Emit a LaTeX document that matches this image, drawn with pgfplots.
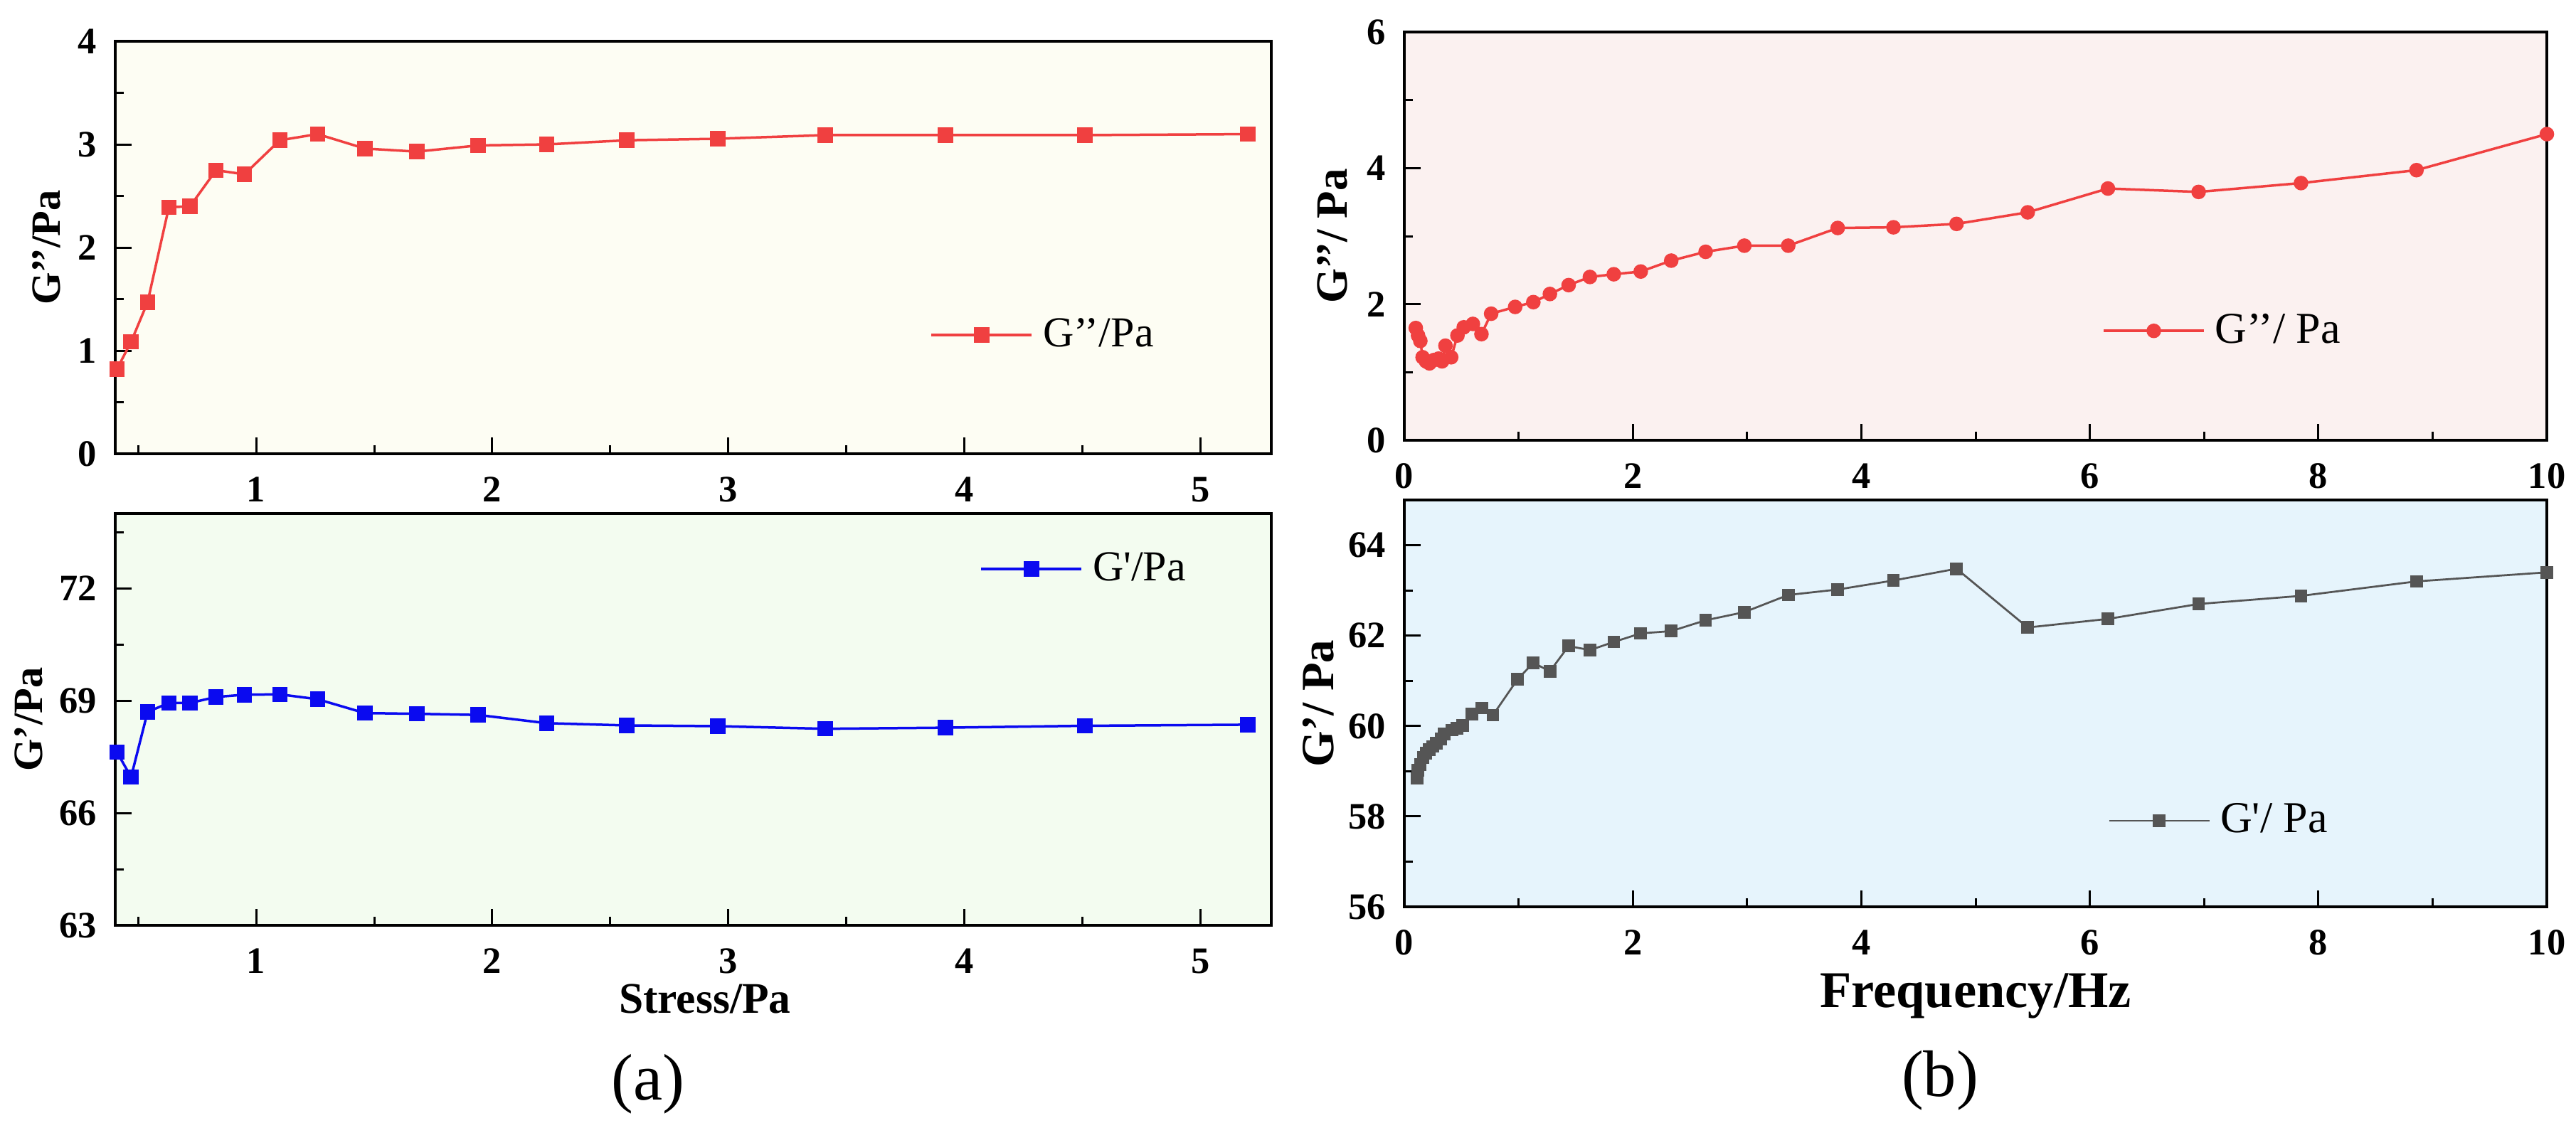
\documentclass[border=0pt]{standalone}
\usepackage{fontspec}
\setmainfont{Liberation Serif}
\usepackage{pgfplots}
\pgfplotsset{compat=1.18}
\definecolor{bgAa}{RGB}{253,253,243}
\definecolor{bgAb}{RGB}{243,252,240}
\definecolor{bgBa}{RGB}{251,241,240}
\definecolor{bgBb}{RGB}{230,244,252}
\definecolor{cred}{RGB}{240,64,64}
\definecolor{cblue}{RGB}{10,10,240}
\definecolor{cgray}{RGB}{85,85,85}
\pgfplotsset{
 panel/.style={
  scale only axis,
  axis line style={line width=0.8pt},
  axis background/.style={fill=#1},
  tick align=inside,
  xtick pos=left, ytick pos=left,
  major tick length=4.6pt, minor tick length=2.4pt,
  every tick/.append style={black, line width=0.6pt},
  /pgf/number format/assume math mode=true,
  xticklabel style={font=\fontsize{10.5}{12}\selectfont\bfseries, yshift=-3pt},
  yticklabel style={font=\fontsize{10.5}{12}\selectfont\bfseries, xshift=-1.7pt},
  legend style={draw=none, fill=none, inner sep=0pt, outer sep=0pt, column sep=2.8pt, nodes={inner sep=0pt}},
  legend image code/.code={\draw[mark repeat=2,mark phase=2,##1] plot coordinates {(0pt,0pt) (14.1pt,0pt) (28.2pt,0pt)};},
 }
}
\begin{document}
\begin{tikzpicture}
\path[use as bounding box] (0,0) rectangle (724.2pt,-317pt);

% (a) top
\begin{axis}[panel=bgAa, at={(32.4pt,-127.6pt)}, anchor=south west, width=325pt, height=116pt,
 xmin=0.403, xmax=5.30, ymin=0, ymax=4,
 xtick={1,2,3,4,5}, minor xtick={0.5,1.5,2.5,3.5,4.5},
 ytick={0,1,2,3,4}, minor ytick={0.5,1.5,2.5,3.5},
 ylabel={G’’/Pa}, ylabel style={font=\fontsize{11.7}{13}\selectfont\bfseries, at={(axis description cs:-0.0597,0.5)}, anchor=center},
 legend style={at={(axis description cs:0.705,0.288)}, anchor=west, font=\fontsize{12}{14}\selectfont}]
\addplot[cred, line width=0.7pt, mark=square*, mark size=1.8pt, mark options={solid}] coordinates {
(0.41,0.82) (0.47,1.085) (0.54,1.47) (0.63,2.39) (0.72,2.40) (0.83,2.75) (0.95,2.71)
(1.10,3.04) (1.26,3.10) (1.46,2.96) (1.68,2.93) (1.94,2.99) (2.23,3.00) (2.57,3.04)
(2.955,3.055) (3.41,3.09) (3.92,3.09) (4.51,3.09) (5.20,3.10)};
\addlegendentry{G’’/Pa}
\end{axis}

% (a) bottom
\begin{axis}[panel=bgAb, at={(32.4pt,-260.2pt)}, anchor=south west, width=325pt, height=115.8pt,
 xmin=0.403, xmax=5.30, ymin=63, ymax=74,
 xtick={1,2,3,4,5}, minor xtick={0.5,1.5,2.5,3.5,4.5},
 ytick={63,66,69,72}, minor ytick={64.5,67.5,70.5,73.5},
 ylabel={G’/Pa}, ylabel style={font=\fontsize{11.7}{13}\selectfont\bfseries, at={(axis description cs:-0.075,0.5)}, anchor=center},
 xlabel={Stress/Pa}, xlabel style={font=\fontsize{12.3}{14}\selectfont\bfseries, at={(axis description cs:0.51,-0.178)}, anchor=center},
 legend style={at={(axis description cs:0.748,0.865)}, anchor=west, font=\fontsize{12}{14}\selectfont}]
\addplot[cblue, line width=0.7pt, mark=square*, mark size=1.8pt, mark options={solid}] coordinates {
(0.41,67.63) (0.47,66.96) (0.54,68.70) (0.63,68.94) (0.72,68.94) (0.83,69.10) (0.95,69.16)
(1.10,69.17) (1.26,69.04) (1.46,68.67) (1.68,68.65) (1.94,68.62) (2.23,68.40) (2.57,68.34)
(2.955,68.32) (3.41,68.25) (3.92,68.28) (4.51,68.33) (5.20,68.36)};
\addlegendentry{G\textquotesingle/Pa}
\end{axis}

% (b) top
\begin{axis}[panel=bgBa, at={(394.8pt,-123.8pt)}, anchor=south west, width=321.2pt, height=114.8pt,
 xmin=0, xmax=10, ymin=0, ymax=6,
 xtick={0,2,4,6,8,10}, minor xtick={1,3,5,7,9},
 ytick={0,2,4,6}, minor ytick={1,3,5},
 ylabel={G’’/ Pa}, ylabel style={font=\fontsize{12.6}{14}\selectfont\bfseries, at={(axis description cs:-0.0629,0.5)}, anchor=center},
 legend style={at={(axis description cs:0.611,0.268)}, anchor=west, font=\fontsize{12.4}{14}\selectfont}]
\addplot[cred, line width=0.7pt, mark=*, mark size=1.7pt, mark options={solid}] coordinates {
(0.10,1.65) (0.12,1.54) (0.14,1.46) (0.16,1.22) (0.19,1.16) (0.22,1.13) (0.26,1.18)
(0.30,1.20) (0.33,1.16) (0.36,1.39) (0.41,1.22) (0.465,1.54) (0.52,1.66) (0.60,1.71)
(0.675,1.56) (0.76,1.86) (0.97,1.96) (1.129,2.03) (1.274,2.15) (1.438,2.28) (1.624,2.40)
(1.833,2.44) (2.069,2.48) (2.336,2.64) (2.637,2.77) (2.976,2.86) (3.36,2.86) (3.793,3.12)
(4.281,3.13) (4.833,3.18) (5.456,3.35) (6.158,3.70) (6.952,3.65) (7.848,3.78) (8.859,3.97)
(10.0,4.50)};
\addlegendentry{G’’/ Pa}
\end{axis}

% (b) bottom
\begin{axis}[panel=bgBb, at={(394.8pt,-255pt)}, anchor=south west, width=321.2pt, height=114.4pt,
 xmin=0, xmax=10, ymin=56, ymax=65,
 xtick={0,2,4,6,8,10}, minor xtick={1,3,5,7,9},
 ytick={56,58,60,62,64}, minor ytick={57,59,61,63},
 ylabel={G’/ Pa}, ylabel style={font=\fontsize{13}{15}\selectfont\bfseries, at={(axis description cs:-0.0753,0.5)}, anchor=center},
 xlabel={Frequency/Hz}, xlabel style={font=\fontsize{14.5}{16}\selectfont\bfseries, at={(axis description cs:0.5,-0.220)}, anchor=center},
 legend style={at={(axis description cs:0.616,0.2115)}, anchor=west, font=\fontsize{12.4}{14}\selectfont}]
\addplot[cgray, line width=0.55pt, mark=square*, mark size=1.5pt, mark options={solid}] coordinates {
(0.11,58.84) (0.12,59.02) (0.14,59.15) (0.165,59.30) (0.19,59.40) (0.22,59.48) (0.25,59.55)
(0.28,59.62) (0.32,59.72) (0.35,59.83) (0.415,59.91) (0.46,59.95) (0.51,60.01) (0.59,60.27)
(0.68,60.40) (0.775,60.24) (0.99,61.03) (1.129,61.40) (1.274,61.21) (1.438,61.77) (1.624,61.68)
(1.833,61.86) (2.069,62.05) (2.336,62.10) (2.637,62.34) (2.976,62.52) (3.36,62.90) (3.793,63.02)
(4.281,63.22) (4.833,63.48) (5.456,62.18) (6.158,62.37) (6.952,62.70) (7.848,62.88) (8.859,63.20)
(10.0,63.40)};
\addlegendentry{G\textquotesingle/ Pa}
\end{axis}

\node[font=\fontsize{18.5}{20}\selectfont] at (182.2pt,-304.8pt) {(a)};
\node[font=\fontsize{18.5}{20}\selectfont] at (545.4pt,-303.8pt) {(b)};
\end{tikzpicture}
\end{document}
